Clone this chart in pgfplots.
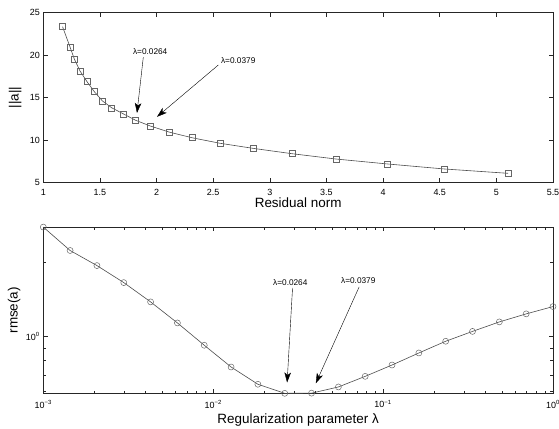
\documentclass[border=0pt]{standalone}
\usepackage{fontspec}
\setmainfont{Liberation Sans}
\usepackage{pgfplots}
\pgfplotsset{compat=1.18}
\usetikzlibrary{arrows.meta}

\begin{document}
\begin{tikzpicture}
\useasboundingbox (0,0) rectangle (559bp,-429bp);
\tikzset{
 arr/.style={-{Stealth[length=10bp,width=6.5bp,inset=2.5bp]}, line width=0.4pt, black},
 lam/.style={font=\fontsize{8.3}{9}\selectfont, inner sep=0pt, anchor=center},
}
\pgfplotsset{
 every axis/.append style={
  scale only axis, clip=false,
  axis line style={black!85, line width=0.6pt},
  tick style={black!85, line width=0.5pt},
  tick align=inside,
  major tick length=4.5bp, minor tick length=2.5bp,
  tick label style={font=\fontsize{9}{10}\selectfont},
  xticklabel style={yshift=-3bp},
  label style={font=\fontsize{13.5}{15}\selectfont},
  /pgf/number format/assume math mode=true,
  xlabel style={anchor=center},
  ylabel style={anchor=center},
 },
 curve/.style={black!70, line width=0.6pt, mark options={black!60, line width=0.5pt, fill=none, solid}},
}

\begin{axis}[at={(43.3bp,-182.5bp)}, anchor=south west, width=509.7bp, height=170bp,
 xmin=1, xmax=5.5, ymin=5, ymax=25,
 xtick={1,1.5,2,2.5,3,3.5,4,4.5,5,5.5},
 xticklabels={1,1.5,2,2.5,3,3.5,4,4.5,5,5.5},
 ytick={5,10,15,20,25},
 xlabel={Residual norm}, ylabel={||a||},
 xlabel style={at={(axis description cs:0.5,-0.121)}},
 ylabel style={at={(axis description cs:-0.055,0.5)}},
]
\addplot[curve, mark=square, mark size=3bp] coordinates {
(1.170,23.33) (1.236,20.94) (1.274,19.53) (1.324,18.12) (1.386,16.86)
(1.451,15.68) (1.521,14.61) (1.604,13.79) (1.706,13.08) (1.815,12.32)
(1.944,11.65) (2.109,10.94) (2.312,10.27) (2.558,9.62) (2.851,9.02)
(3.195,8.39) (3.586,7.76) (4.039,7.18) (4.542,6.59) (5.104,6.08)};
\node[lam] at (axis cs:1.944,20.35) {λ=0.0264};
\draw[arr] (axis cs:1.883,19.76) -- (axis cs:1.827,13.18);
\node[lam] at (axis cs:2.721,19.29) {λ=0.0379};
\draw[arr] (axis cs:2.545,18.82) -- (axis cs:2.004,12.73);
\end{axis}

\begin{axis}[at={(43.3bp,-393.5bp)}, anchor=south west, width=509.7bp, height=166.5bp,
 xmode=log, ymode=log,
 xmin=0.001, xmax=1, ymin=0.589, ymax=2.775,
 xtick={0.001,0.01,0.1,1},
 xticklabels={10\textsuperscript{−3},10\textsuperscript{−2},10\textsuperscript{−1},10\textsuperscript{0}},
 minor xtick={0.002,0.003,0.004,0.005,0.006,0.007,0.008,0.009,0.02,0.03,0.04,0.05,0.06,0.07,0.08,0.09,0.2,0.3,0.4,0.5,0.6,0.7,0.8,0.9},
 ytick={1}, yticklabels={10\textsuperscript{0}},
 minor ytick={0.6,0.7,0.8,0.9,2},
 xlabel={Regularization parameter λ}, ylabel={rmse(a)},
 xlabel style={at={(axis description cs:0.5,-0.16)}},
 ylabel style={at={(axis description cs:-0.057,0.5)}},
]
\addplot[curve, mark=o, mark size=3bp] coordinates {
(0.001,2.773) (0.0014384,2.23) (0.0020691,1.938) (0.0029764,1.654) (0.0042813,1.382)
(0.0061585,1.136) (0.0088587,0.923) (0.012743,0.754) (0.018330,0.642) (0.026367,0.590)
(0.037927,0.591) (0.054556,0.626) (0.078476,0.691) (0.11288,0.768) (0.16238,0.859)
(0.23357,0.958) (0.33598,1.05) (0.48329,1.147) (0.69519,1.236) (1.0,1.323)};
\node[lam] at (axis cs:0.02844,1.650) {λ=0.0264};
\draw[arr] (axis cs:0.02931,1.574) -- (axis cs:0.02723,0.6525);
\node[lam] at (axis cs:0.07145,1.681) {λ=0.0379};
\draw[arr] (axis cs:0.07228,1.589) -- (axis cs:0.04018,0.6477);
\end{axis}
\end{tikzpicture}
\end{document}
